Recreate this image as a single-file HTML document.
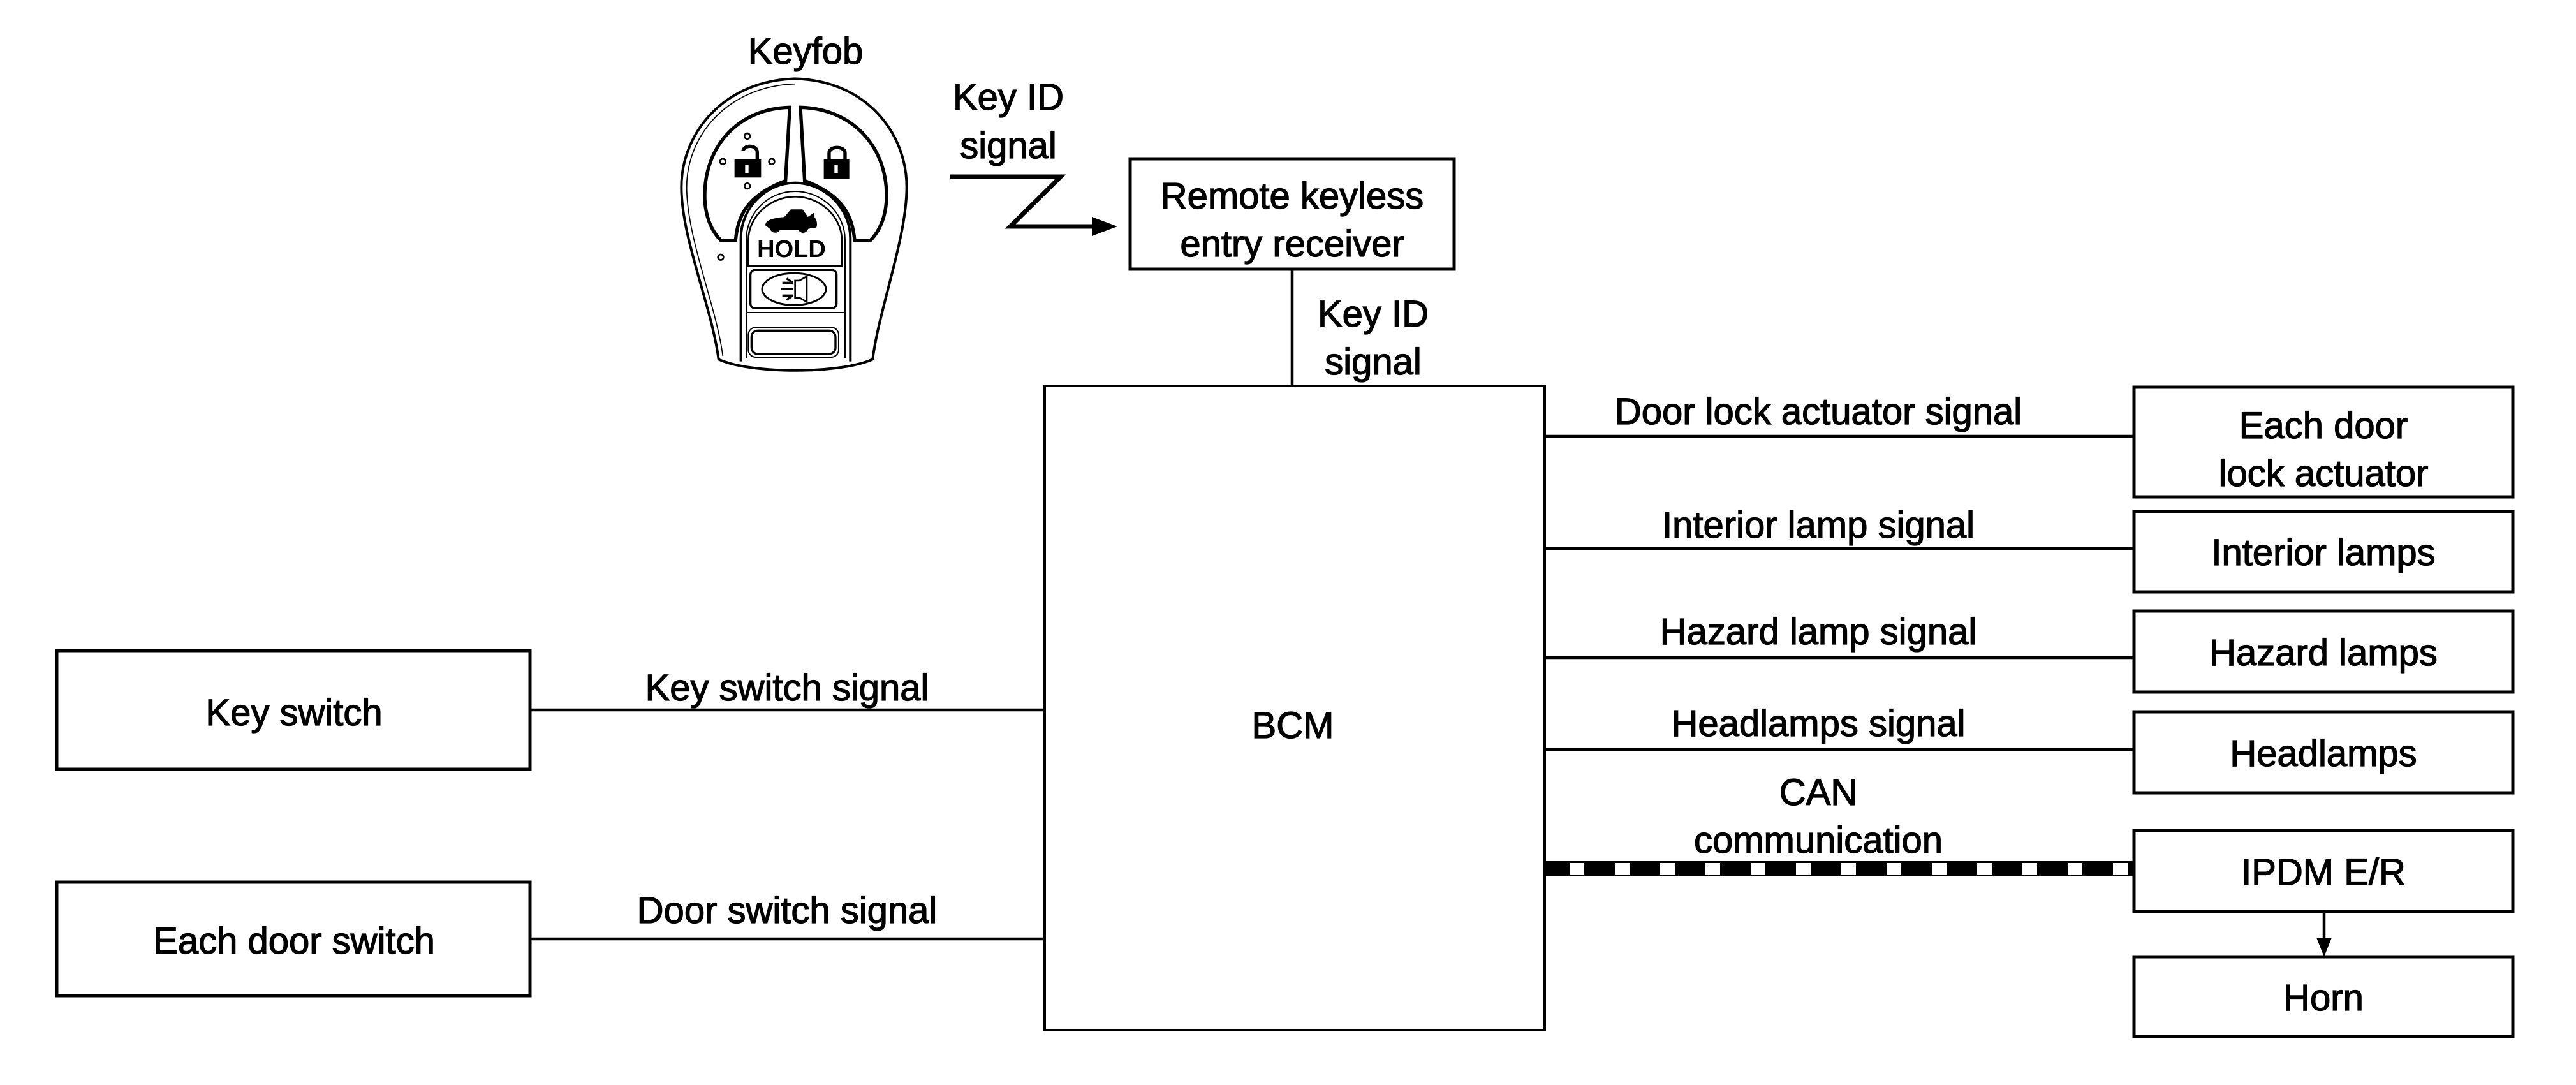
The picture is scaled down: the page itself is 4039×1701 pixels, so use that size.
<!DOCTYPE html>
<html><head><meta charset="utf-8"><style>
html,body{margin:0;padding:0;background:#fff;}
svg{display:block;}
text{font-family:"Liberation Sans",Arial,sans-serif;fill:#000;}
</style></head><body>
<svg width="4039" height="1701" viewBox="0 0 4039 1701" xmlns="http://www.w3.org/2000/svg">
<rect width="4039" height="1701" fill="#fff"/>
<g fill="none" stroke="#000" stroke-width="5">
  <rect x="1638" y="605" width="784" height="1010" stroke-width="4"/>
  <rect x="1772" y="249" width="508" height="173"/>
  <rect x="89" y="1020" width="742" height="186"/>
  <rect x="89" y="1383" width="742" height="178"/>
  <rect x="3346" y="607" width="594" height="172"/>
  <rect x="3346" y="802" width="594" height="126"/>
  <rect x="3346" y="958" width="594" height="127"/>
  <rect x="3346" y="1116" width="594" height="127"/>
  <rect x="3346" y="1302" width="594" height="127"/>
  <rect x="3346" y="1500" width="594" height="125"/>
</g>
<g stroke="#000" stroke-width="4.5" fill="none">
  <line x1="2026" y1="422" x2="2026" y2="605"/>
  <line x1="831" y1="1113" x2="1638" y2="1113"/>
  <line x1="831" y1="1472" x2="1638" y2="1472"/>
  <line x1="2422" y1="684" x2="3346" y2="684"/>
  <line x1="2422" y1="860" x2="3346" y2="860"/>
  <line x1="2422" y1="1031" x2="3346" y2="1031"/>
  <line x1="2422" y1="1175" x2="3346" y2="1175"/>
  <line x1="3644" y1="1429" x2="3644" y2="1475"/>
</g>
<polygon points="3632,1470 3656,1470 3644,1500" fill="#000"/>
<rect x="2422" y="1350" width="924" height="23" fill="#000"/>
<g fill="#fff">
  <rect x="2461" y="1353" width="23" height="19"/><rect x="2532" y="1353" width="23" height="19"/>
  <rect x="2603" y="1353" width="23" height="19"/><rect x="2674" y="1353" width="23" height="19"/>
  <rect x="2745" y="1353" width="23" height="19"/><rect x="2816" y="1353" width="23" height="19"/>
  <rect x="2887" y="1353" width="23" height="19"/><rect x="2958" y="1353" width="23" height="19"/>
  <rect x="3029" y="1353" width="23" height="19"/><rect x="3100" y="1353" width="23" height="19"/>
  <rect x="3171" y="1353" width="23" height="19"/><rect x="3242" y="1353" width="23" height="19"/>
  <rect x="3313" y="1353" width="23" height="19"/>
</g>
<polyline points="1490,277 1663,277 1584,355 1718,355" fill="none" stroke="#000" stroke-width="7"/>
<polygon points="1712,340 1752,355 1712,370" fill="#000"/>
<g font-size="58" text-anchor="middle" stroke="#000" stroke-width="1.3">
  <text x="1263" y="100">Keyfob</text>
  <text x="1581" y="172">Key ID</text>
  <text x="1581" y="248">signal</text>
  <text x="2026" y="327">Remote keyless</text>
  <text x="2026" y="402">entry receiver</text>
  <text x="2153" y="512">Key ID</text>
  <text x="2153" y="587">signal</text>
  <text x="2027" y="1157">BCM</text>
  <text x="461" y="1137">Key switch</text>
  <text x="461" y="1495">Each door switch</text>
  <text x="1234" y="1098">Key switch signal</text>
  <text x="1234" y="1447">Door switch signal</text>
  <text x="2851" y="665">Door lock actuator signal</text>
  <text x="2851" y="843">Interior lamp signal</text>
  <text x="2851" y="1010">Hazard lamp signal</text>
  <text x="2851" y="1154">Headlamps signal</text>
  <text x="2851" y="1262">CAN</text>
  <text x="2851" y="1337">communication</text>
  <text x="3643" y="687">Each door</text>
  <text x="3643" y="762">lock actuator</text>
  <text x="3643" y="886">Interior lamps</text>
  <text x="3643" y="1043">Hazard lamps</text>
  <text x="3643" y="1201">Headlamps</text>
  <text x="3643" y="1387">IPDM E/R</text>
  <text x="3643" y="1584">Horn</text>
</g>
<g transform="translate(1050,100) scale(0.3333)" fill="none" stroke="#000">
  <path d="M590,70 C250,80 55,330 55,580 C55,820 200,1150 230,1390 C380,1460 800,1460 955,1390 C985,1150 1115,820 1115,580 C1115,330 930,80 590,70 Z" stroke-width="12"/>
  <path d="M590,95 C270,105 80,340 80,580 C80,820 220,1140 250,1375" stroke-width="5"/>
  <path d="M565,205 C330,210 165,380 165,620 C165,720 200,790 240,830 L310,830 C320,720 360,620 545,550 Z" stroke-width="16"/>
  <path d="M615,205 C850,210 1020,380 1020,620 C1020,720 985,790 945,830 L870,830 C860,720 820,620 635,550 Z" stroke-width="16"/>
  <path d="M335,1400 L335,820 C335,680 450,560 590,560 C730,560 850,680 850,820 L850,1400" stroke-width="12"/>
  <path d="M360,1385 L360,830 C360,700 465,600 590,600 C715,600 825,700 825,830 L825,1385" stroke-width="6"/>
  <path d="M370,950 L370,830 C370,720 470,625 590,625 C710,625 810,720 810,830 L810,950 Z" stroke-width="8"/>
  <rect x="380" y="970" width="405" height="180" rx="22" stroke-width="10"/>
  <ellipse cx="585" cy="1060" rx="150" ry="75" stroke-width="9"/>
  <path d="M590,1020 L610,1020 L645,1000 L645,1120 L610,1100 L590,1100 Z" stroke-width="8"/>
  <path d="M530,1030 L580,1030 M525,1060 L580,1060 M530,1090 L580,1090 M550,1010 L580,1030 M550,1110 L580,1090" stroke-width="10"/>
  <rect x="370" y="1240" width="425" height="140" rx="35" stroke-width="6"/>
  <rect x="385" y="1255" width="395" height="110" rx="30" stroke-width="10"/>
  <line x1="360" y1="1170" x2="825" y2="1170" stroke-width="6"/>
  <circle cx="365" cy="340" r="13" stroke-width="8"/>
  <circle cx="250" cy="460" r="13" stroke-width="8"/>
  <circle cx="480" cy="460" r="13" stroke-width="8"/>
  <circle cx="365" cy="575" r="13" stroke-width="8"/>
  <circle cx="240" cy="910" r="13" stroke-width="8"/>
  <path d="M345,410 C350,380 410,380 412,415 L412,450" stroke-width="16"/>
  <path d="M750,450 L750,420 C750,385 825,385 825,420 L825,450" stroke-width="16"/>
</g>
<g transform="translate(1050,100) scale(0.3333)" fill="#000">
  <rect x="305" y="450" width="125" height="85"/>
  <rect x="725" y="450" width="120" height="90"/>
  <path d="M450,760 C450,730 500,725 540,720 L570,685 L625,685 L650,720 L680,700 L680,720 C695,735 695,760 690,770 C660,775 650,775 650,780 C640,800 615,800 605,780 L520,780 C510,800 480,800 470,775 Z"/>
</g>
<g transform="translate(1050,100) scale(0.3333)" fill="#fff">
  <rect x="355" y="475" width="16" height="40"/>
  <rect x="775" y="475" width="16" height="40"/>
</g>
<text x="1241" y="403" font-size="38" text-anchor="middle" font-weight="bold">HOLD</text>
</svg>
</body></html>
